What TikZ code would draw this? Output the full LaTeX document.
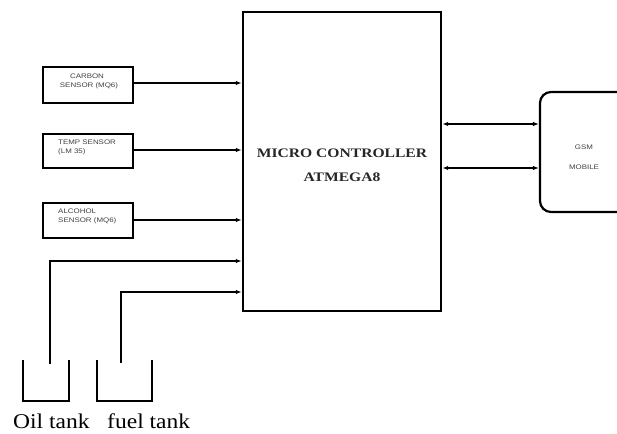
\documentclass[tikz,border=0pt]{standalone}
\usepackage{fontspec}
\setmainfont{Liberation Serif}
\newfontfamily\smallsans{Liberation Sans}
\usetikzlibrary{arrows.meta,calc}
\begin{document}
\begin{tikzpicture}[x=1pt,y=-1pt,
  sensorbox/.style={draw,line width=2.2pt,minimum width=90pt,inner sep=0pt},
  sensortext/.style={font=\smallsans\fontsize{6.6}{8.5}\selectfont,xscale=1.2,text=black!75},
  arr/.style={line width=1.4pt,-{Latex[length=6pt,width=4.5pt]}},
  biarr/.style={line width=1.4pt,{Latex[length=6pt,width=4.5pt]}-{Latex[length=6pt,width=4.5pt]}},
  pipe/.style={line width=1.6pt},
  tank/.style={line width=2pt},
  tanklabel/.style={font=\fontsize{21}{24}\selectfont,xscale=1.12,inner sep=0pt,anchor=base west}]
\useasboundingbox (0,0) rectangle (617,433);
\fill[white] (0,0) rectangle (617,433);
\begin{scope}
\clip (0,0) rectangle (617,433);
% microcontroller
\node[draw,line width=2.4pt,minimum width=198pt,minimum height=299pt,inner sep=0pt] (mc) at (342,161.5) {};
\node[font=\bfseries\fontsize{13}{15}\selectfont,xscale=1.2,text=black!85] (mctxt1) at (342,153) {MICRO CONTROLLER};
\node[font=\bfseries\fontsize{13}{15}\selectfont,xscale=1.2,text=black!85] (mctxt2) at (342,177) {ATMEGA8};
% sensors
\node[sensorbox,minimum height=36pt] (carbon) at (88,85) {};
\node[sensortext] (ct1) at (87,76) {CARBON};
\node[sensortext] (ct2) at (89,85.5) {SENSOR (MQ6)};
\node[sensorbox,minimum height=34pt] (temp) at (88,151) {};
\node[sensortext,anchor=west] (tt1) at (54,142) {TEMP SENSOR};
\node[sensortext,anchor=west] (tt2) at (54,151.5) {(LM 35)};
\node[sensorbox,minimum height=35pt] (alc) at (88,220.5) {};
\node[sensortext,anchor=west] (at1) at (54,211) {ALCOHOL};
\node[sensortext,anchor=west] (at2) at (54,221) {SENSOR (MQ6)};
% GSM
\node[draw,line width=2.2pt,rounded corners=11pt,minimum width=88pt,minimum height=120pt,inner sep=0pt] (gsm) at (584,152) {};
\node[sensortext] (g1) at (584,147) {GSM};
\node[sensortext] (g2) at (584,167) {MOBILE};
% arrows in
\draw[arr] (carbon.east |- 0,83) -- (mc.west |- 0,83);
\draw[arr] (temp.east |- 0,150) -- (mc.west |- 0,150);
\draw[arr] (alc.east |- 0,220) -- (mc.west |- 0,220);
% bidirectional
\draw[biarr] (mc.east |- 0,124) -- (gsm.west |- 0,124);
\draw[biarr] (mc.east |- 0,168) -- (gsm.west |- 0,168);
% tanks
\coordinate (oilpipe) at (50,364);
\coordinate (fuelpipe) at (121,363);
\draw[tank] (23,360) -- (23,401) -- (69,401) -- (69,360);
\draw[tank] (97,360) -- (97,401) -- (152,401) -- (152,360);
\draw[pipe,-{Latex[length=6pt,width=4.5pt]}] (oilpipe) |- (mc.west |- 0,261);
\draw[pipe,-{Latex[length=6pt,width=4.5pt]}] (fuelpipe) |- (mc.west |- 0,292);
\end{scope}
\node[tanklabel] (oillbl) at (13,428) {Oil tank};
\node[tanklabel] (fuellbl) at (107,428) {fuel tank};
\end{tikzpicture}
\end{document}
